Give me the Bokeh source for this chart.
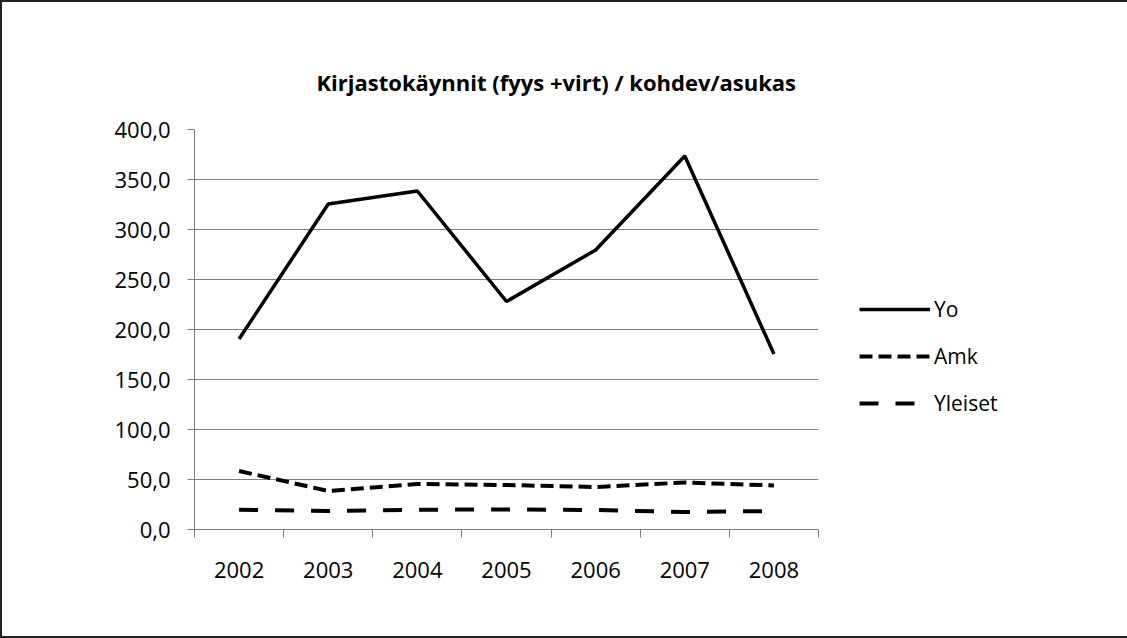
import numpy as np
from bokeh.plotting import figure
from bokeh.models import (Range1d, FixedTicker, Legend, LegendItem, Title)
from bokeh.embed import file_html
from bokeh.resources import INLINE

# ---- data ----
years = ["2002", "2003", "2004", "2005", "2006", "2007", "2008"]
yo = [190.5, 325.5, 338.5, 228.0, 279.5, 373.5, 175.5]
amk = [58.5, 38.5, 45.5, 44.5, 42.5, 47.0, 44.0]
yleiset = [19.8, 18.5, 19.8, 20.0, 19.5, 17.5, 18.5]
y_ticks = [0, 50, 100, 150, 200, 250, 300, 350, 400]
y_tick_labels = ["0,0", "50,0", "100,0", "150,0", "200,0", "250,0", "300,0", "350,0", "400,0"]
title_text = "Kirjastokäynnit (fyys +virt) / kohdev/asukas"

FONT = "Open Sans"
TXT = "#000000"
GRID = "#7f7f7f"

n = len(years)
centers = list(np.arange(n) + 0.5)
bounds = list(np.arange(n + 1).astype(float))

p = figure(frame_width=624, frame_height=400, output_backend="svg", toolbar_location=None,
           x_range=Range1d(0, n), y_range=Range1d(0, 400),
           min_border_left=192, min_border_right=0,
           min_border_top=127, min_border_bottom=107, title=None)
p.styles = {"border": "2px solid #222"}
p.outline_line_color = None
p.background_fill_color = "white"
p.border_fill_color = "white"

t = Title(text=title_text, align="left", offset=122, text_font=FONT,
          text_font_size="22px", text_font_style="bold", text_color=TXT, standoff=65)
p.add_layout(t, "above")

# x axis
xa = p.xaxis[0]
xa.ticker = FixedTicker(ticks=centers, minor_ticks=bounds)
xa.major_label_overrides = {float(c): y for c, y in zip(centers, years)}
xa.major_tick_out = 0
xa.major_tick_in = 0
xa.minor_tick_out = 8
xa.minor_tick_in = 0
xa.minor_tick_line_color = GRID
xa.axis_line_color = GRID
xa.major_label_standoff = 24
xa.major_label_text_font = FONT
xa.major_label_text_font_size = "22px"
xa.major_label_text_color = TXT

# y axis
ya = p.yaxis[0]
ya.ticker = FixedTicker(ticks=y_ticks)
ya.major_label_overrides = {v: s for v, s in zip(y_ticks, y_tick_labels)}
ya.major_tick_out = 7
ya.major_tick_in = 0
ya.minor_tick_out = 0
ya.minor_tick_in = 0
ya.major_tick_line_color = GRID
ya.axis_line_color = GRID
ya.major_label_standoff = 17
ya.major_label_text_font = FONT
ya.major_label_text_font_size = "22px"
ya.major_label_text_color = TXT

p.xgrid.grid_line_color = None
p.ygrid.ticker = FixedTicker(ticks=y_ticks)
p.ygrid.grid_line_color = GRID
p.ygrid.grid_line_width = 1.2

r_yo = p.line(centers, yo, line_color="black", line_width=3.5)
r_amk = p.line(centers, amk, line_color="black", line_width=4, line_dash="13 6")
r_yl = p.line(centers, yleiset, line_color="black", line_width=4, line_dash="19 17")

legend = Legend(items=[LegendItem(label="Yo", renderers=[r_yo]),
                       LegendItem(label="Amk", renderers=[r_amk]),
                       LegendItem(label="Yleiset", renderers=[r_yl])],
                location=(41, 112), border_line_color=None,
                background_fill_alpha=0, padding=0, margin=0, spacing=19,
                glyph_width=71, glyph_height=20, label_height=20,
                label_standoff=4, label_text_font=FONT,
                label_text_font_size="21px", label_text_color=TXT)
p.add_layout(legend, "right")

open("out.html", "w").write(file_html(p, INLINE))
